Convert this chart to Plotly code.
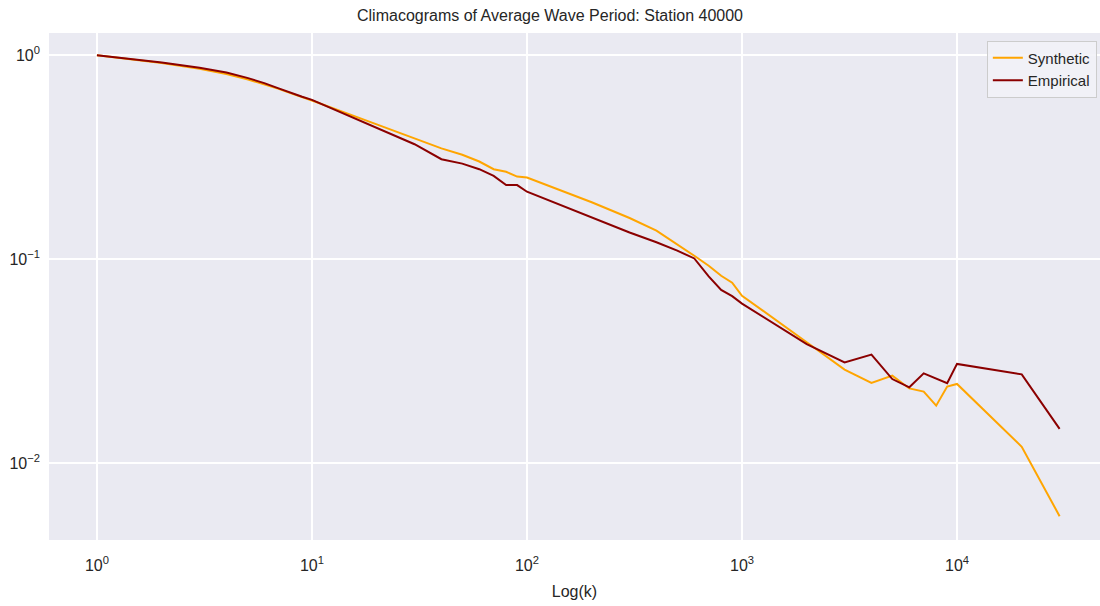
import numpy as np
import plotly.graph_objects as go

# Aggregation scales k
k = [1, 2, 3, 4, 5, 6, 7, 8, 9, 10,
     20, 30, 40, 50, 60, 70, 80, 90, 100,
     200, 300, 400, 500, 600, 700, 800, 900, 1000,
     2000, 3000, 4000, 5000, 6000, 7000, 8000, 9000, 10000,
     20000, 30000]

# Standardised variance at each scale
synthetic = [1.0, 0.915, 0.858, 0.808, 0.763, 0.722, 0.684, 0.650, 0.623, 0.600,
             0.458, 0.391, 0.349, 0.325, 0.301, 0.276, 0.268, 0.254, 0.251,
             0.190, 0.159, 0.138, 0.1185, 0.1038, 0.0927, 0.0828, 0.0766, 0.0661,
             0.0391, 0.0287, 0.0247, 0.0268, 0.0232, 0.0224, 0.0191, 0.0237, 0.0244,
             0.0120, 0.00548]

empirical = [1.0, 0.921, 0.868, 0.822, 0.774, 0.730, 0.688, 0.652, 0.626, 0.604,
             0.438, 0.366, 0.309, 0.294, 0.276, 0.256, 0.231, 0.2306, 0.214,
             0.160, 0.135, 0.121, 0.110, 0.1007, 0.0823, 0.0706, 0.0658, 0.0605,
             0.0383, 0.0311, 0.0340, 0.0258, 0.0235, 0.0275, 0.0258, 0.0246, 0.0306,
             0.0272, 0.0147]

x_tick_vals = [1, 10, 100, 1000, 10000]
x_tick_text = ["10<sup>0</sup>", "10<sup>1</sup>", "10<sup>2</sup>", "10<sup>3</sup>", "10<sup>4</sup>"]
y_tick_vals = [1, 0.1, 0.01]
y_tick_text = ["10<sup>0</sup>", "10<sup>\u22121</sup>", "10<sup>\u22122</sup>"]

fig = go.Figure()
fig.add_trace(go.Scatter(x=k, y=synthetic, mode="lines", name="Synthetic",
                         line=dict(color="#FFA500", width=2)))
fig.add_trace(go.Scatter(x=k, y=empirical, mode="lines", name="Empirical",
                         line=dict(color="#8B0000", width=2)))

font_family = "Liberation Sans, Arial, sans-serif"

fig.update_layout(
    width=1100, height=606,
    margin=dict(l=49, r=0, t=33, b=66),
    paper_bgcolor="white",
    plot_bgcolor="#EAEAF2",
    font=dict(family=font_family, size=15, color="#262626"),
    title=dict(text="Climacograms of Average Wave Period: Station 40000",
               x=0.5, xanchor="center", y=0.975, yanchor="middle",
               font=dict(size=16, color="#262626")),
    showlegend=True,
    legend=dict(x=0.997, y=0.985, xanchor="right", yanchor="top",
                bgcolor="rgba(242,242,247,0.9)", bordercolor="#CCCCCC", borderwidth=1,
                font=dict(size=15, color="#262626"), tracegroupgap=4),
    xaxis=dict(type="log", range=[-0.223, 4.665],
               tickvals=x_tick_vals, ticktext=x_tick_text,
               showgrid=True, gridcolor="white", gridwidth=2,
               zeroline=False, showline=False, ticks="",
               tickfont=dict(size=16), ticklabelstandoff=14,
               title=dict(text="Log(k)", font=dict(size=16), standoff=12)),
    yaxis=dict(type="log", range=[-2.378, 0.109],
               tickvals=y_tick_vals, ticktext=y_tick_text,
               showgrid=True, gridcolor="white", gridwidth=2,
               zeroline=False, showline=False, ticks="",
               tickfont=dict(size=16), ticklabelstandoff=8),
)

fig.write_html("out.html")
